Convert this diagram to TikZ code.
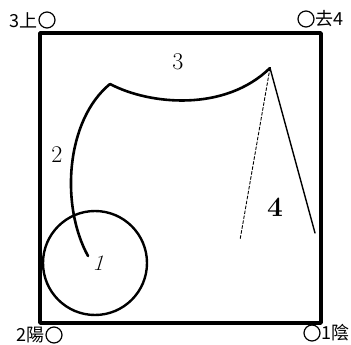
\documentclass[tikz,border=0pt]{standalone}
\usepackage{fontspec}
\newfontfamily\cjk{Noto Sans CJK TC}
\usetikzlibrary{positioning}

\begin{document}
\begin{tikzpicture}[x=1pt, y=-1pt,
        frame/.style={line width=3.5pt, line cap=round, line join=round},
        corner/.style={circle, draw, line width=1.2pt, minimum size=16pt, inner sep=0pt},
        tag/.style={font=\cjk\fontsize{18}{18}\selectfont, inner sep=0pt},
        hand/.style={font=\fontsize{24}{24}\selectfont, inner sep=0pt},
        stroke/.style={line width=2.6pt, line cap=round},
        leg/.style={line width=1.4pt, line cap=round}
    ]
    \useasboundingbox (0,0) rectangle (351,345);

    \coordinate (nw) at (40,33);
    \coordinate (ne) at (321,33);
    \coordinate (se) at (321,323);
    \coordinate (sw) at (40,323);
    \draw[frame] (nw) -- (ne) -- (se) -- (sw) -- cycle;

    \node[corner] (up) at (47,20) {};
    \node[tag, left=1pt of up] (upt) {3上};
    \node[corner] (go) at (306,19) {};
    \node[tag, right=1pt of go] (got) {去4};
    \node[corner] (yang) at (54,335) {};
    \node[tag, left=1pt of yang] (yangt) {2陽};
    \node[corner] (yin) at (312,333) {};
    \node[tag, right=1pt of yin] (yint) {1陰};

    \node[circle, draw, line width=2.4pt, minimum size=104pt, inner sep=0pt] (ball) at (95,263) {};

    \coordinate (top) at (110,84);
    \coordinate (peak) at (270,68);
    \coordinate (tail) at (88,256);
    \coordinate (foota) at (240,240);
    \coordinate (footb) at (315,233);

    \draw[stroke] (tail) .. controls (60,205) and (66,120) .. (top);
    \draw[stroke] (top) .. controls (150,105) and (225,112) .. (peak);
    \draw[leg] (peak) -- (footb);
    \draw[leg, line width=0.9pt, densely dashed] (peak) -- (foota);

    \node[hand] (three) at (178,62) {3};
    \node[hand] (two) at (57,155) {2};
    \node[hand, font=\bfseries\fontsize{28}{28}\selectfont] (four) at (275,207) {4};
    \node[hand, font=\fontsize{22}{22}\selectfont, xslant=0.3] (one) at (100,263) {1};
\end{tikzpicture}
\end{document}
